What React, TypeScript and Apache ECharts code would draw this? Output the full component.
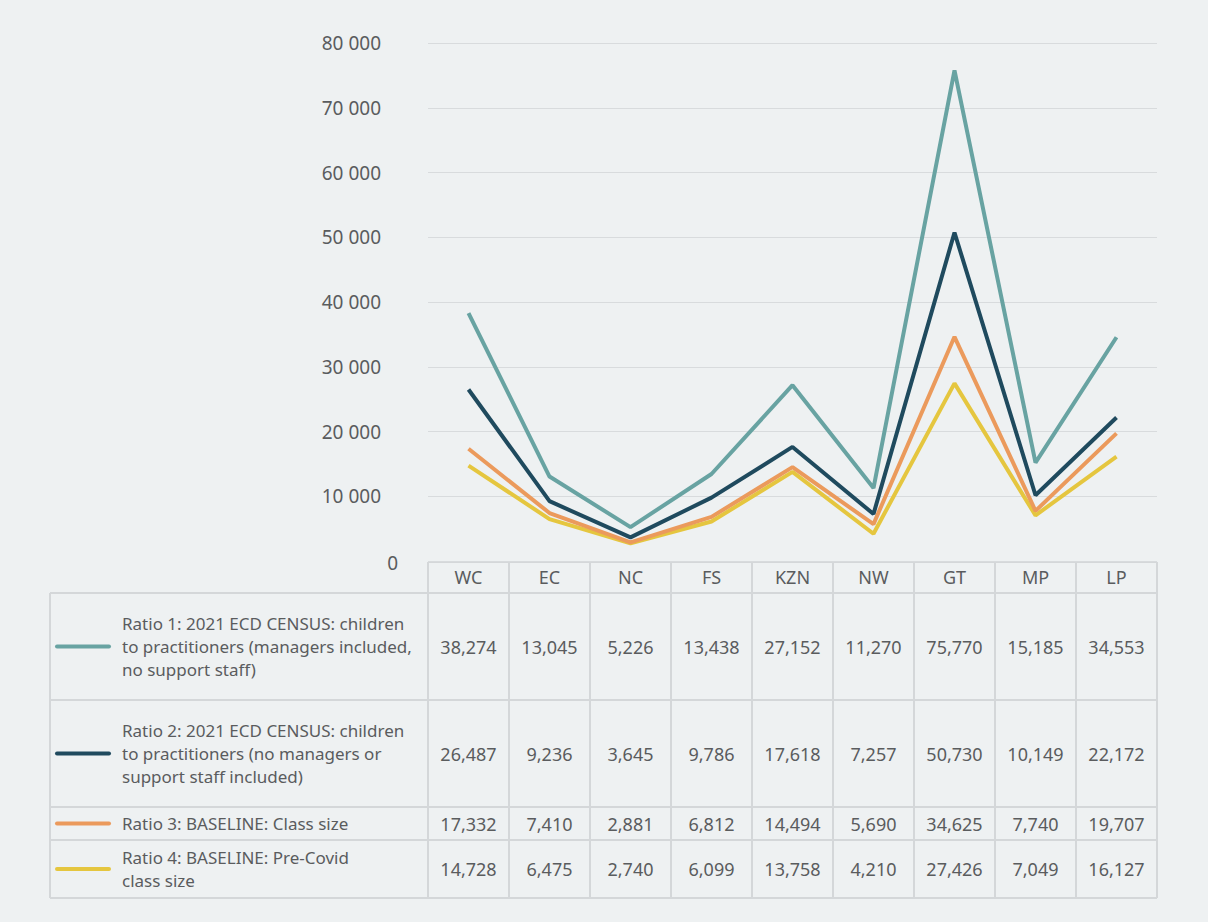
import React, { useEffect, useRef } from "react";
import * as echarts from "echarts";

const categories = ["WC", "EC", "NC", "FS", "KZN", "NW", "GT", "MP", "LP"];
const ratio1 = [38274, 13045, 5226, 13438, 27152, 11270, 75770, 15185, 34553];
const ratio2 = [26487, 9236, 3645, 9786, 17618, 7257, 50730, 10149, 22172];
const ratio3 = [17332, 7410, 2881, 6812, 14494, 5690, 34625, 7740, 19707];
const ratio4 = [14728, 6475, 2740, 6099, 13758, 4210, 27426, 7049, 16127];
const seriesNames = [
  "Ratio 1: 2021 ECD CENSUS: children\nto practitioners (managers included,\nno support staff)",
  "Ratio 2: 2021 ECD CENSUS: children\nto practitioners (no managers or\nsupport staff included)",
  "Ratio 3: BASELINE: Class size",
  "Ratio 4: BASELINE: Pre-Covid\nclass size",
];
const seriesData = [ratio1, ratio2, ratio3, ratio4];
const colors = ["#68a3a2", "#1f4a5e", "#eb9a5c", "#e5c63f"];

const FONT = "'Noto Sans', 'Open Sans', sans-serif";
const TEXT = "#5a5c5e";
const BORDER = "#d4d7d9";

// layout
const W = 1208, H = 922;
const GL = 428, GR = 1157, GT = 43, GB = 561;
const TABLE_LEFT = 50;
const rowEdges = [562, 593, 700, 807, 840, 898];

function fmtNum(v: number) {
  return v.toLocaleString("en-US");
}

export default function App() {
  const ref = useRef<HTMLDivElement>(null);
  useEffect(() => {
    const chart = echarts.init(ref.current!, null, { renderer: "svg" });
    const colW = (GR - GL) / categories.length;
    const graphics: any[] = [];
    // table borders
    // header box (only over data columns)
    graphics.push({ type: "line", shape: { x1: GL, y1: rowEdges[0], x2: GR, y2: rowEdges[0] }, style: { stroke: BORDER, lineWidth: 2 } });
    for (let r = 1; r < rowEdges.length; r++) {
      graphics.push({ type: "line", shape: { x1: TABLE_LEFT, y1: rowEdges[r], x2: GR, y2: rowEdges[r] }, style: { stroke: BORDER, lineWidth: 2 } });
    }
    graphics.push({ type: "line", shape: { x1: TABLE_LEFT, y1: rowEdges[1], x2: TABLE_LEFT, y2: rowEdges[5] }, style: { stroke: BORDER, lineWidth: 2 } });
    for (let c = 0; c <= categories.length; c++) {
      const x = GL + c * colW;
      graphics.push({ type: "line", shape: { x1: x, y1: rowEdges[0], x2: x, y2: rowEdges[5] }, style: { stroke: BORDER, lineWidth: 2 } });
    }
    // rows
    for (let s = 0; s < seriesData.length; s++) {
      const cy = (rowEdges[s + 1] + rowEdges[s + 2]) / 2;
      graphics.push({ type: "line", shape: { x1: 57, y1: cy, x2: 109, y2: cy }, style: { stroke: colors[s], lineWidth: 4, lineCap: "round" } });
      graphics.push({
        type: "text", x: 122, y: cy,
        style: { text: seriesNames[s], fill: TEXT, fontSize: 17, fontFamily: FONT, lineHeight: 23, align: "left", verticalAlign: "middle" },
      });
      seriesData[s].forEach((v, i) => {
        graphics.push({
          type: "text", x: GL + (i + 0.5) * colW, y: cy,
          style: { text: fmtNum(v), fill: TEXT, fontSize: 18, fontFamily: FONT, align: "center", verticalAlign: "middle" },
        });
      });
    }
    graphics.push({
      type: "text", x: 398, y: 563,
      style: { text: "0", fill: TEXT, fontSize: 19, fontFamily: FONT, align: "right", verticalAlign: "middle" },
    });

    chart.setOption({
      animation: false,
      backgroundColor: "#eef1f2",
      grid: { left: GL, right: W - GR, top: GT, bottom: H - GB, containLabel: false },
      xAxis: {
        type: "category",
        data: categories,
        boundaryGap: true,
        axisLine: { show: false },
        axisTick: { show: false },
        axisLabel: { color: TEXT, fontSize: 18, fontFamily: FONT, margin: 7 },
      },
      yAxis: {
        type: "value",
        min: 0,
        max: 80000,
        interval: 10000,
        axisLine: { show: false },
        axisTick: { show: false },
        splitLine: { lineStyle: { color: "#d8dbdd", width: 1 } },
        axisLabel: {
          color: TEXT, fontSize: 19, fontFamily: FONT, margin: 47,
          formatter: (v: number) => (v === 0 ? "" : String(v / 1000) + " 000"),
        },
      },
      series: seriesData.map((d, i) => ({
        type: "line",
        name: seriesNames[i],
        data: d,
        symbol: "none",
        lineStyle: { color: colors[i], width: 4 },
        itemStyle: { color: colors[i] },
        z: 10 - i,
      })),
      graphic: graphics,
    });
    return () => chart.dispose();
  }, []);
  return <div ref={ref} style={{ position: "fixed", left: 0, top: 0, width: W, height: H }} />;
}
